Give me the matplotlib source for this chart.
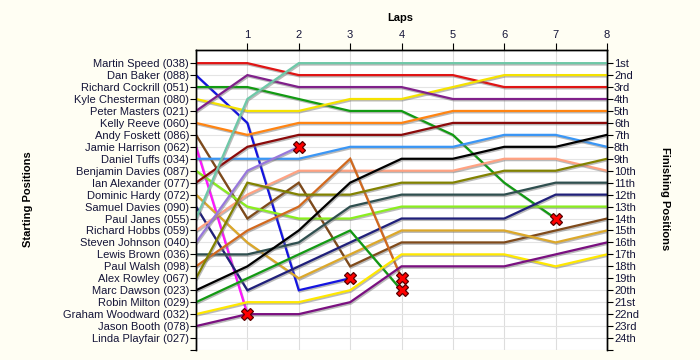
import matplotlib
matplotlib.use("Agg")
import matplotlib.pyplot as plt
import matplotlib.patheffects as pe

# ---------------------------------------------------------
# race data: grid order and position at end of each lap
# ---------------------------------------------------------
drivers = [
    "Martin Speed (038)", "Dan Baker (088)", "Richard Cockrill (051)",
    "Kyle Chesterman (080)", "Peter Masters (021)", "Kelly Reeve (060)",
    "Andy Foskett (086)", "Jamie Harrison (062)", "Daniel Tuffs (034)",
    "Benjamin Davies (087)", "Ian Alexander (077)", "Dominic Hardy (072)",
    "Samuel Davies (090)", "Paul Janes (055)", "Richard Hobbs (059)",
    "Steven Johnson (040)", "Lewis Brown (036)", "Paul Walsh (098)",
    "Alex Rowley (067)", "Marc Dawson (023)", "Robin Milton (029)",
    "Graham Woodward (032)", "Jason Booth (078)", "Linda Playfair (027)",
]

finish_labels = [
    "1st", "2nd", "3rd", "4th", "5th", "6th", "7th", "8th", "9th", "10th",
    "11th", "12th", "13th", "14th", "15th", "16th", "17th", "18th", "19th",
    "20th", "21st", "22nd", "23rd", "24th",
]

laps = [1, 2, 3, 4, 5, 6, 7, 8]

# lap 0 = grid slot
martin_speed     = [1, 1, 2, 2, 2, 2, 3, 3, 3]
dan_baker        = [2, 6, 20, 19]
richard_cockrill = [3, 3, 4, 5, 5, 7, 11, 14]
kyle_chesterman  = [4, 5, 5, 4, 4, 3, 2, 2, 2]
peter_masters    = [5, 2, 3, 3, 3, 4, 4, 4, 4]
kelly_reeve      = [6, 7, 6, 6, 6, 5, 5, 5, 5]
andy_foskett     = [7, 14, 11, 18, 16, 16, 16, 15, 14]
jamie_harrison   = [8, 22]
daniel_tuffs     = [9, 9, 9, 8, 8, 8, 7, 7, 8]
benjamin_davies  = [10, 13, 14, 14, 13, 13, 13, 13, 13]
ian_alexander    = [11, 8, 7, 7, 7, 6, 6, 6, 6]
dominic_hardy    = [12, 16, 19, 17, 15, 15, 15, 16, 15]
samuel_davies    = [13, 20, 18, 16, 14, 14, 14, 12, 12]
paul_janes       = [14, 4, 1, 1, 1, 1, 1, 1, 1]
richard_hobbs    = [15, 12, 10, 10, 10, 10, 9, 9, 10]
steven_johnson   = [16, 10, 8]
lewis_brown      = [17, 17, 16, 13, 12, 12, 12, 11, 11]
paul_walsh       = [18, 15, 13, 9, 19]
alex_rowley      = [19, 11, 12, 12, 11, 11, 10, 10, 9]
marc_dawson      = [20, 18, 15, 11, 9, 9, 8, 8, 7]
robin_milton     = [21, 19, 17, 15, 20]
graham_woodward  = [22, 21, 21, 20, 17, 17, 17, 18, 17]
jason_booth      = [23, 22, 22, 21, 18, 18, 18, 17, 16]
linda_playfair   = []   # non starter

retired = [
    "Dan Baker (088)", "Richard Cockrill (051)", "Jamie Harrison (062)",
    "Steven Johnson (040)", "Paul Walsh (098)", "Robin Milton (029)",
]

positions = [
    martin_speed, dan_baker, richard_cockrill, kyle_chesterman, peter_masters,
    kelly_reeve, andy_foskett, jamie_harrison, daniel_tuffs, benjamin_davies,
    ian_alexander, dominic_hardy, samuel_davies, paul_janes, richard_hobbs,
    steven_johnson, lewis_brown, paul_walsh, alex_rowley, marc_dawson,
    robin_milton, graham_woodward, jason_booth, linda_playfair,
]

colors = [
    "#E01414", "#1414E0", "#129A12", "#F5E200", "#80208A", "#FF8412",
    "#7F4A1A", "#FF14FF", "#3A96F5", "#8AEE1E", "#8B0A0A", "#DCA82A",
    "#20207A", "#6EC8A8", "#FFA282", "#9878DC", "#2F4F4F", "#D2691E",
    "#828200", "#000000", "#139A13", "#FFE800", "#7A1080", "#BBBBBB",
]

n = len(drivers)
bg = "#FFFEF3"
txt = "#141438"

plt.rcParams["font.family"] = ["Liberation Sans", "DejaVu Sans"]

fig = plt.figure(figsize=(7, 3.6), dpi=100, facecolor=bg)
ax = fig.add_axes([196/700, 10/360, 411/700, 300/360])
ax.set_facecolor("white")

shadow = [pe.SimpleLineShadow(offset=(0.7, -1.0), shadow_color="#777777", alpha=0.5),
          pe.Normal()]

for name, pos, c in zip(drivers, positions, colors):
    if len(pos) == 0:
        continue
    x = list(range(len(pos)))
    ax.plot(x, pos, color=c, lw=1.6, solid_joinstyle="miter", path_effects=shadow, zorder=3)
    if name in retired:
        ax.plot(x[-1], pos[-1], marker="X", ms=8.5, mfc="#FF0000", mec="#5A0000",
                mew=0.9, zorder=5)

ax.set_xlim(0, 8)
ax.set_ylim(25, -0.1)

# top lap axis
ax.xaxis.tick_top()
ax.set_xticks(laps)
ax.set_xticklabels([str(l) for l in laps], fontsize=8, color=txt)
ax.tick_params(axis="x", length=5, width=0.8, pad=2)
ax.grid(axis="x", color="#DDDDDD", lw=0.8, zorder=0)

# left axis = grid
yt = list(range(1, n + 1)) + [25]
ax.set_yticks(yt)
ax.set_yticklabels(drivers + [""], fontsize=8, color=txt)
ax.tick_params(axis="y", length=4, width=0.8, pad=1)
ax.grid(axis="y", color="#E4E4E4", lw=0.8, zorder=0)

ax2 = ax.twinx()
ax2.set_ylim(ax.get_ylim())
ax2.set_yticks(yt)
ax2.set_yticklabels(finish_labels + [""], fontsize=8, color=txt)
ax2.tick_params(axis="y", length=4, width=0.8, pad=1)

for a in (ax, ax2):
    a.spines["bottom"].set_visible(False)
    for s in ("top", "left", "right"):
        a.spines[s].set_linewidth(1.0)

fig.text(400/700, 1 - 18/360, "Laps", ha="center", va="center",
         fontsize=8, fontweight="bold")
fig.text(28/700, 1 - 199/360, "Starting Positions", rotation=90,
         ha="center", va="center", fontsize=8, fontweight="bold")
fig.text(665/700, 1 - 199/360, "Finishing Positions", rotation=-90,
         ha="center", va="center", fontsize=8, fontweight="bold")

fig.savefig("out.png", dpi=100, facecolor=bg)
